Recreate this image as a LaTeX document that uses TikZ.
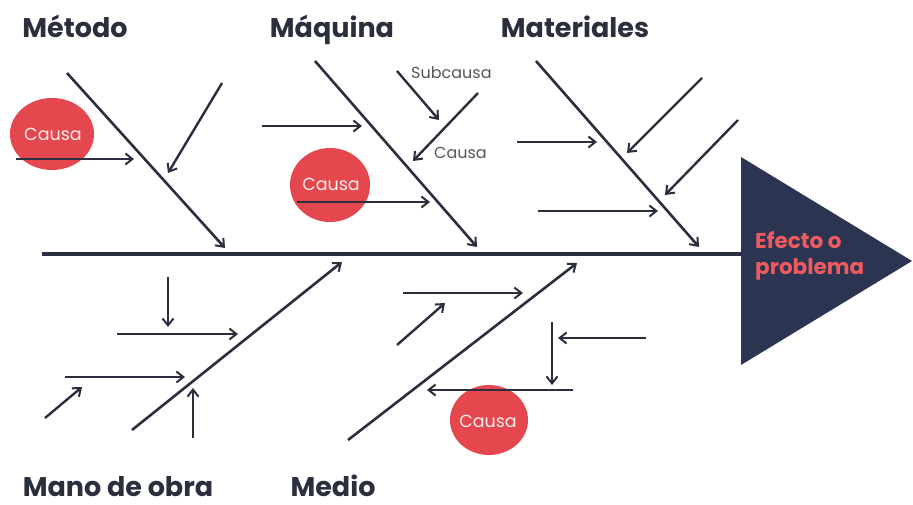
\documentclass[tikz,border=0pt]{standalone}
\usepackage{fontspec}
\setmainfont{Poppins}
\usetikzlibrary{arrows.meta,shapes.geometric}
\definecolor{ink}{HTML}{2A2E3D}
\definecolor{navy}{HTML}{2B3552}
\definecolor{redc}{HTML}{E5474E}
\definecolor{efx}{HTML}{EF5A5F}
\definecolor{graytxt}{HTML}{555555}
\tikzset{
  bone/.style={draw=ink, line width=2.6pt, -{Straight Barb[length=7pt,width=11pt,line width=2pt]}},
  arr/.style={draw=ink, line width=2.4pt, -{Straight Barb[length=7pt,width=11pt,line width=2pt]}},
  spine/.style={draw=ink, line width=4.5pt},
  title/.style={font=\fontsize{27}{30}\selectfont\bfseries, text=ink, inner sep=0pt, anchor=base},
  causa/.style={ellipse, fill=redc, inner sep=0pt},
  causatxt/.style={font=\fontsize{17.5}{20}\selectfont, text=white!90!redc, inner sep=0pt},
  small/.style={font=\fontsize{16}{18}\selectfont, text=graytxt, inner sep=0pt},
  efecto/.style={font=\fontsize{21.5}{26}\selectfont\bfseries, text=efx, align=left, inner sep=0pt}
}
\begin{document}
\begin{tikzpicture}[x=1pt,y=-1pt]
\useasboundingbox (0,0) rectangle (913,504);
% ellipses (behind arrows)
\node[causa, minimum width=84pt, minimum height=72pt] (c1) at (52,134) {};
\node[causa, minimum width=80pt, minimum height=74pt] (c2) at (330,185) {};
\node[causa, minimum width=78pt, minimum height=70pt] (c3) at (489,420) {};
\node[causatxt] (t1) at (53,134) {Causa};
\node[causatxt] (t2) at (331,184) {Causa};
\node[causatxt] (t3) at (488,421) {Causa};
% head triangle
\coordinate (h1) at (741,157);
\coordinate (h2) at (741,365);
\coordinate (h3) at (912,261);
\fill[navy] (h1) -- (h3) -- (h2) -- cycle;
\node[efecto, anchor=north west] (eff) at (755,231) {Efecto o\\problema};
% spine
\coordinate (s0) at (42,254);
\coordinate (s1) at (742,254);
\draw[spine] (s0) -- (s1);
% titles
\node[title] (tm) at (75,37) {Método};
\node[title] (tq) at (332,37) {Máquina};
\node[title] (tt) at (575,37) {Materiales};
\node[title] (tw) at (118,496) {Mano de obra};
\node[title] (tv) at (333,496) {Medio};
% small labels
\node[small, anchor=west] (sub) at (411,73) {Subcausa};
\node[small, anchor=west] (sc) at (434,153) {Causa};
% Metodo
\coordinate (m0) at (67,73); \coordinate (m1) at (225,248);
\draw[bone] (m0) -- (m1);
\coordinate (m2) at (222,83); \coordinate (m3) at (168,173);
\draw[arr] (m2) -- (m3);
\coordinate (m4) at (16,159); \coordinate (m5) at (134,159);
\draw[arr] (m4) -- (m5);
% Maquina
\coordinate (q0) at (315,61); \coordinate (q1) at (477,247);
\draw[bone] (q0) -- (q1);
\coordinate (q2) at (262,126); \coordinate (q3) at (362,126);
\draw[arr] (q2) -- (q3);
\coordinate (q4) at (397,71); \coordinate (q5) at (439,120);
\draw[arr] (q4) -- (q5);
\coordinate (q6) at (478,93); \coordinate (q7) at (413,161);
\draw[arr] (q6) -- (q7);
\coordinate (q8) at (297,202); \coordinate (q9) at (430,202);
\draw[arr] (q8) -- (q9);
% Materiales
\coordinate (a0) at (536,61); \coordinate (a1) at (699,247);
\draw[bone] (a0) -- (a1);
\coordinate (a2) at (517,142); \coordinate (a3) at (597,142);
\draw[arr] (a2) -- (a3);
\coordinate (a4) at (702,78); \coordinate (a5) at (627,153);
\draw[arr] (a4) -- (a5);
\coordinate (a6) at (738,120); \coordinate (a7) at (665,195);
\draw[arr] (a6) -- (a7);
\coordinate (a8) at (538,211); \coordinate (a9) at (658,211);
\draw[arr] (a8) -- (a9);
% Mano de obra
\coordinate (w0) at (132,430); \coordinate (w1) at (342,262);
\draw[bone] (w0) -- (w1);
\coordinate (w2) at (168,277); \coordinate (w3) at (168,327);
\draw[arr] (w2) -- (w3);
\coordinate (w4) at (117,334); \coordinate (w5) at (238,334);
\draw[arr] (w4) -- (w5);
\coordinate (w6) at (65,377); \coordinate (w7) at (185,377);
\draw[arr] (w6) -- (w7);
\coordinate (w8) at (45,418); \coordinate (w9) at (82,387);
\draw[arr] (w8) -- (w9);
\coordinate (wa) at (193,438); \coordinate (wb) at (193,388);
\draw[arr] (wa) -- (wb);
% Medio
\coordinate (d0) at (348,440); \coordinate (d1) at (577,263);
\draw[bone] (d0) -- (d1);
\coordinate (d2) at (403,293); \coordinate (d3) at (523,293);
\draw[arr] (d2) -- (d3);
\coordinate (d4) at (397,345); \coordinate (d5) at (445,303);
\draw[arr] (d4) -- (d5);
\coordinate (d6) at (552,322); \coordinate (d7) at (552,385);
\draw[arr] (d6) -- (d7);
\coordinate (d8) at (646,338); \coordinate (d9) at (558,338);
\draw[arr] (d8) -- (d9);
\coordinate (da) at (573,390); \coordinate (db) at (427,390);
\draw[arr] (da) -- (db);
\end{tikzpicture}
\end{document}
